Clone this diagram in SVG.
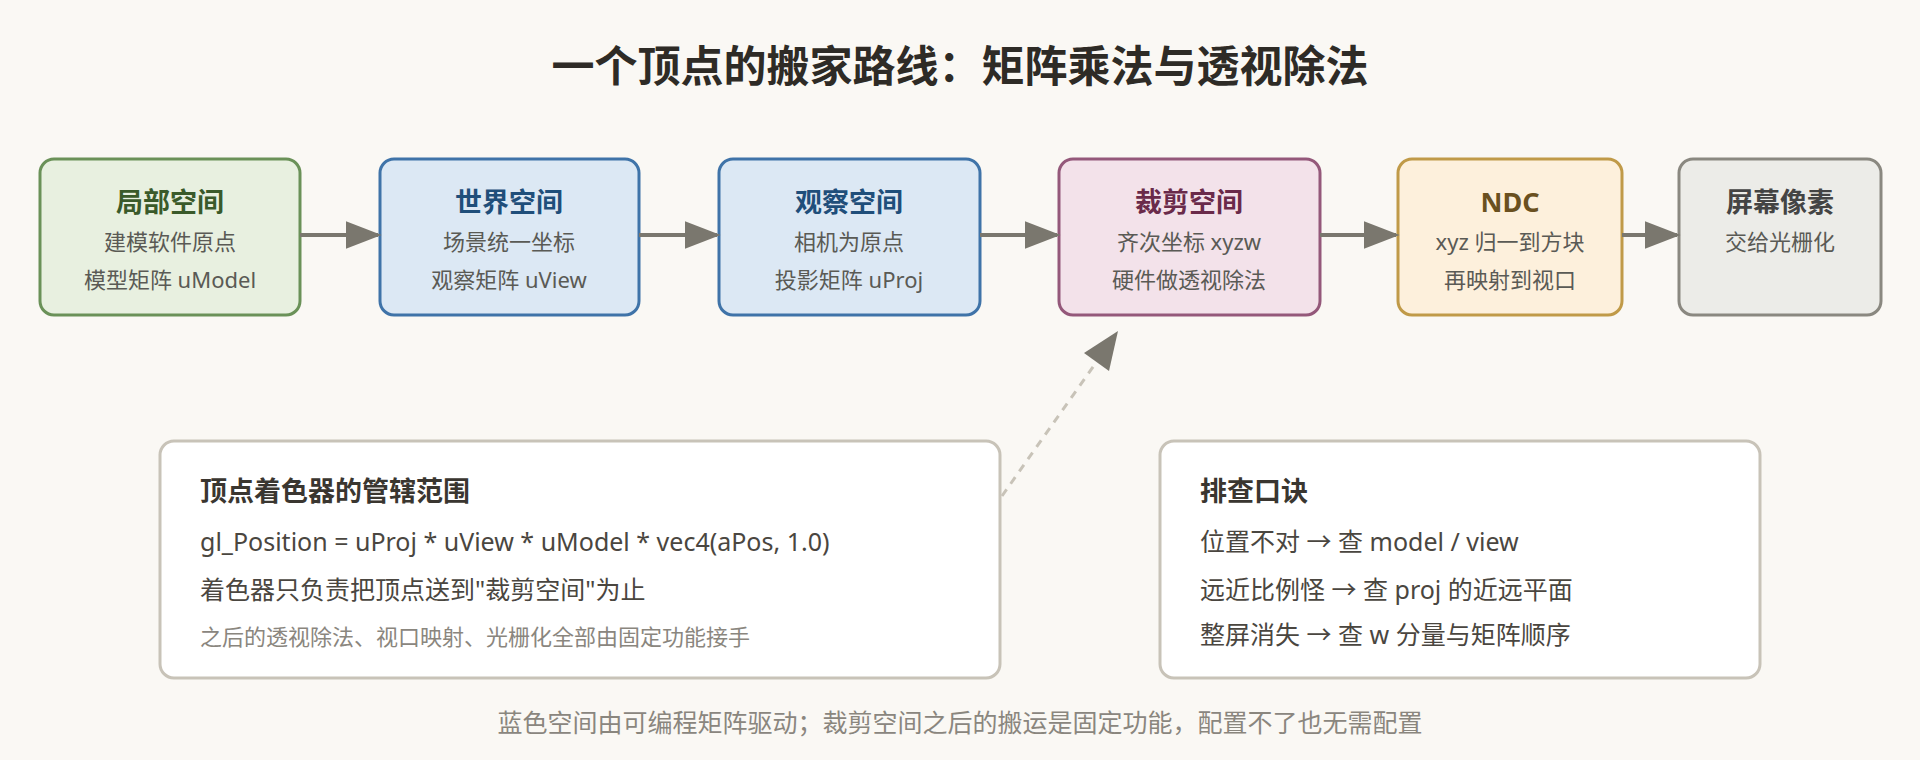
<svg xmlns="http://www.w3.org/2000/svg" width="1920" height="760" viewBox="0 0 1920 760">
<defs>
<style>
text{font-family:"Noto Sans","Noto Sans CJK SC",sans-serif}
.t{font-size:27px;font-weight:bold;text-anchor:middle}
.s{font-size:22px;fill:#5a5a55;text-anchor:middle}
.box{stroke-width:3}
.panel{fill:#fff;stroke:#c8c3b8;stroke-width:3}
.ph{font-size:27px;font-weight:bold;fill:#3a3630}
.pl{font-size:25px;fill:#4a4640}
.pm{font-size:22px;fill:#8a867e}
.con{stroke:#7a776e;stroke-width:4;fill:none}
</style>
<marker id="ah" viewBox="0 0 10 10" refX="9" refY="5" markerWidth="9" markerHeight="7" orient="auto" markerUnits="strokeWidth" preserveAspectRatio="none"><path d="M0,0L10,5L0,10z" fill="#7a776e"/></marker>
</defs>
<rect width="1920" height="760" fill="#faf8f4"/>
<text x="960" y="82" font-size="43" font-weight="bold" text-anchor="middle" fill="#2e2b26">一个顶点的搬家路线：矩阵乘法与透视除法</text>
<g id="n1"><rect class="box" x="40" y="159" width="260" height="156" rx="14" fill="#e8f0e0" stroke="#6a9158"/><text class="t" x="170" y="212" fill="#3a5a2a">局部空间</text><text class="s" x="170" y="250">建模软件原点</text><text class="s" x="170" y="288">模型矩阵 uModel</text></g>
<g id="n2"><rect class="box" x="380" y="159" width="259" height="156" rx="14" fill="#dce8f4" stroke="#3f73a8"/><text class="t" x="509" y="212" fill="#1f4e7a">世界空间</text><text class="s" x="509" y="250">场景统一坐标</text><text class="s" x="509" y="288">观察矩阵 uView</text></g>
<g id="n3"><rect class="box" x="719" y="159" width="261" height="156" rx="14" fill="#dce8f4" stroke="#3f73a8"/><text class="t" x="849" y="212" fill="#1f4e7a">观察空间</text><text class="s" x="849" y="250">相机为原点</text><text class="s" x="849" y="288">投影矩阵 uProj</text></g>
<g id="n4"><rect class="box" x="1059" y="159" width="261" height="156" rx="14" fill="#f3e2ea" stroke="#94587a"/><text class="t" x="1189" y="212" fill="#6a2a4a">裁剪空间</text><text class="s" x="1189" y="250">齐次坐标 xyzw</text><text class="s" x="1189" y="288">硬件做透视除法</text></g>
<g id="n5"><rect class="box" x="1398" y="159" width="224" height="156" rx="14" fill="#fdf0dc" stroke="#c09a48"/><text class="t" x="1510" y="212" fill="#6a5020">NDC</text><text class="s" x="1510" y="250">xyz 归一到方块</text><text class="s" x="1510" y="288">再映射到视口</text></g>
<g id="n6"><rect class="box" x="1679" y="159" width="202" height="156" rx="14" fill="#ecece8" stroke="#8a8880"/><text class="t" x="1780" y="212" fill="#444">屏幕像素</text><text class="s" x="1780" y="250">交给光栅化</text></g>
<g id="connectors">
<line class="con" x1="300" y1="235" x2="378" y2="235" marker-end="url(#ah)"/>
<line class="con" x1="639" y1="235" x2="717" y2="235" marker-end="url(#ah)"/>
<line class="con" x1="980" y1="235" x2="1057" y2="235" marker-end="url(#ah)"/>
<line class="con" x1="1320" y1="235" x2="1396" y2="235" marker-end="url(#ah)"/>
<line class="con" x1="1622" y1="235" x2="1677" y2="235" marker-end="url(#ah)"/>
<line x1="1002" y1="496" x2="1100" y2="357" stroke="#c8c3b8" stroke-width="3" stroke-dasharray="8,7"/>
<path d="M1118,331L1084,353L1109,371z" fill="#7a776e"/>
</g>
<g id="p1"><rect class="panel" x="160" y="441" width="840" height="237" rx="14"/><text class="ph" x="200" y="501">顶点着色器的管辖范围</text><text class="pl" x="200" y="551">gl_Position = uProj * uView * uModel * vec4(aPos, 1.0)</text><text class="pl" x="200" y="599">着色器只负责把顶点送到"裁剪空间"为止</text><text class="pm" x="200" y="645">之后的透视除法、视口映射、光栅化全部由固定功能接手</text></g>
<g id="p2"><rect class="panel" x="1160" y="441" width="600" height="237" rx="14"/><text class="ph" x="1200" y="501">排查口诀</text><text class="pl" x="1200" y="551">位置不对 → 查 model / view</text><text class="pl" x="1200" y="599">远近比例怪 → 查 proj 的近远平面</text><text class="pl" x="1200" y="644">整屏消失 → 查 w 分量与矩阵顺序</text></g>
<text x="960" y="732" font-size="25" text-anchor="middle" fill="#8a867e">蓝色空间由可编程矩阵驱动；裁剪空间之后的搬运是固定功能，配置不了也无需配置</text>
</svg>
